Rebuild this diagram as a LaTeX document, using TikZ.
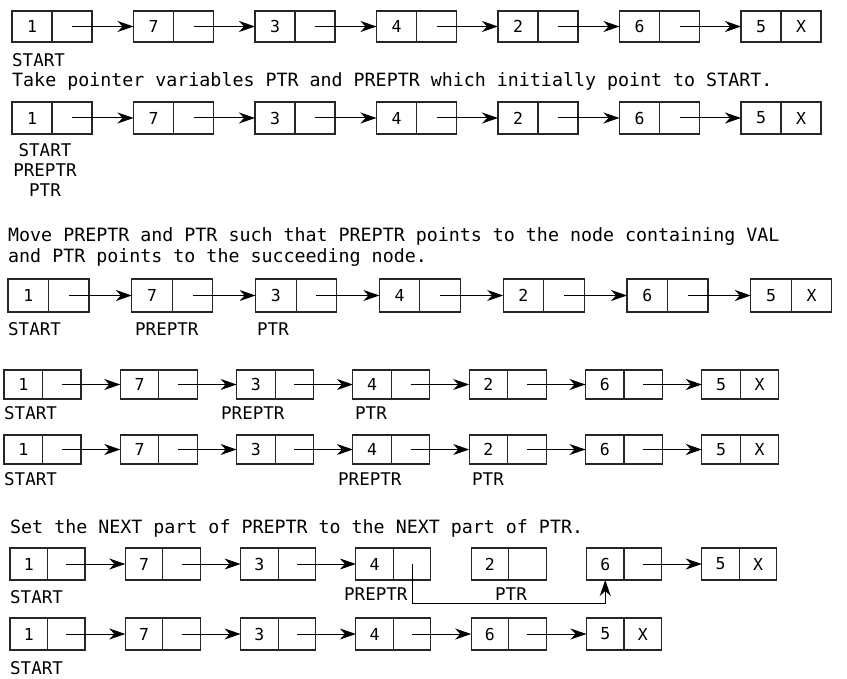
\documentclass[tikz,border=0pt]{standalone}
\usepackage{fontspec}
\usetikzlibrary{arrows.meta,calc}
\newfontfamily\codefont{DejaVu Sans Mono}

\tikzset{
  cell/.style={draw=black!85, line width=1.1pt, outer sep=0pt, inner sep=0pt,
    font=\codefont\fontsize{16.5}{16}\selectfont},
  link/.style={-{Stealth[length=16pt,width=11pt,inset=5pt]}, line width=1pt},
  lbl/.style={anchor=base west, inner sep=0pt, font=\codefont\fontsize{17.5}{18}\selectfont},
  note/.style={anchor=base west, inner sep=0pt, font=\codefont\fontsize{18.3}{22}\selectfont}
}

% one row of list nodes: prefix, left x, centre y, pitch, cell width, height, values, last
\newcommand{\llrow}[8]{%
  \foreach \v [count=\i] in {#7} {
    \node[cell, minimum width=#5pt, minimum height=#6pt] (#1\i) at ({#2+#5/2+(\i-1)*#4}, #3) {\v};
    \node[cell, minimum width=#5pt, minimum height=#6pt, anchor=west] (#1\i p) at (#1\i.east) {};
  }
  \node[cell, draw=none] (#1x) at (#1#8p) {X};
}

\begin{document}
\begin{tikzpicture}[x=1pt, y=-1pt]
  \useasboundingbox (0,0) rectangle (847,679);

  % the list
  \llrow{a}{12}{26.5}{121.5}{40}{31}{1,7,3,4,2,6,5}{7}
  \foreach \i/\j in {1/2,2/3,3/4,4/5,5/6,6/7}
    \draw[link] (a\i p.center) -- (a\j.west);
  \node[lbl] (astart) at (12,67) {START};
  \node[note] (txt1) at (12,87) {Take pointer variables PTR and PREPTR which initially point to START.};

  % PREPTR and PTR at START
  \llrow{b}{12}{118}{121.5}{40}{32}{1,7,3,4,2,6,5}{7}
  \foreach \i/\j in {1/2,2/3,3/4,4/5,5/6,6/7}
    \draw[link] (b\i p.center) -- (b\j.west);
  \node[lbl, anchor=base] (bstart) at (45,157) {START};
  \node[lbl, anchor=base] (bpre) at (45,177) {PREPTR};
  \node[lbl, anchor=base] (bptr) at (45,197) {PTR};

  % move PREPTR and PTR
  \node[note] (txt2) at (8,242) {Move PREPTR and PTR such that PREPTR points to the node containing VAL};
  \node[note] (txt3) at (8,263) {and PTR points to the succeeding node.};
  \llrow{c}{8}{295.5}{123.8}{40.5}{33}{1,7,3,4,2,6,5}{7}
  \foreach \i/\j in {1/2,2/3,3/4,4/5,5/6,6/7}
    \draw[link] (c\i p.center) -- (c\j.west);
  \node[lbl] (cstart) at (8,336) {START};
  \node[lbl] (cpre) at (135,336) {PREPTR};
  \node[lbl] (cptr) at (257,336) {PTR};

  \llrow{d}{4}{384.5}{116.3}{38.5}{29}{1,7,3,4,2,6,5}{7}
  \foreach \i/\j in {1/2,2/3,3/4,4/5,5/6,6/7}
    \draw[link] (d\i p.center) -- (d\j.west);
  \node[lbl] (dstart) at (4,420) {START};
  \node[lbl] (dpre) at (221,420) {PREPTR};
  \node[lbl] (dptr) at (355,420) {PTR};

  \llrow{e}{4}{449.5}{116.3}{38.5}{29}{1,7,3,4,2,6,5}{7}
  \foreach \i/\j in {1/2,2/3,3/4,4/5,5/6,6/7}
    \draw[link] (e\i p.center) -- (e\j.west);
  \node[lbl] (estart) at (4,485) {START};
  \node[lbl] (epre) at (338,485) {PREPTR};
  \node[lbl] (eptr) at (472,485) {PTR};

  % set NEXT of PREPTR
  \node[note] (txt4) at (10,533) {Set the NEXT part of PREPTR to the NEXT part of PTR.};
  \llrow{f}{10}{564}{115.3}{37.5}{32}{1,7,3,4,2,6,5}{7}
  \foreach \i/\j in {1/2,2/3,3/4,6/7}
    \draw[link] (f\i p.center) -- (f\j.west);
  \draw[link] (f4p.center) -- ++(0,39) -| (f6.south);
  \node[lbl] (fstart) at (10,603) {START};
  \node[lbl] (fpre) at (344,600) {PREPTR};
  \node[lbl] (fptr) at (495,600) {PTR};

  % result
  \llrow{g}{10}{634}{115.3}{37.5}{32}{1,7,3,4,6,5}{6}
  \foreach \i/\j in {1/2,2/3,3/4,4/5,5/6}
    \draw[link] (g\i p.center) -- (g\j.west);
  \node[lbl] (gstart) at (10,674) {START};
\end{tikzpicture}
\end{document}
